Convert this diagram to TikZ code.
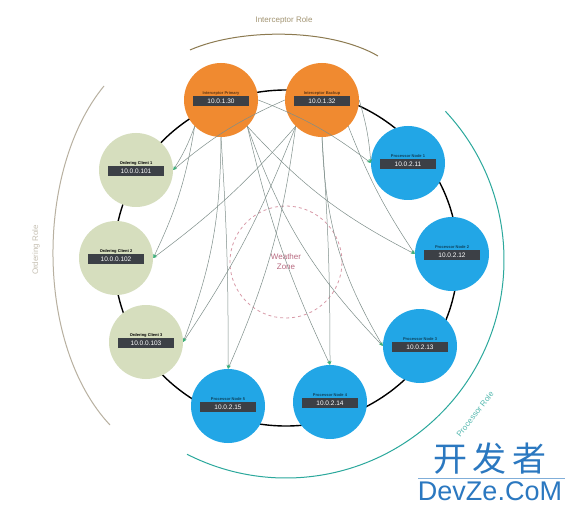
\documentclass[tikz,border=0pt]{standalone}
\usepackage{fontspec}
\setmainfont{Liberation Sans}
\newfontfamily\cjk{Noto Sans CJK SC}
\usetikzlibrary{arrows.meta,calc}
\definecolor{orng}{HTML}{F08A30}
\definecolor{blu}{HTML}{22A6E6}
\definecolor{grn}{HTML}{D6DEBE}
\definecolor{bar}{HTML}{3C4046}
\definecolor{olv}{HTML}{8C7A50}
\definecolor{tan}{HTML}{B8B0A0}
\definecolor{teal}{HTML}{2BA89C}
\definecolor{lnk}{HTML}{7E8E8A}
\definecolor{tip}{HTML}{3DB07A}
\definecolor{pnk}{HTML}{D89AA8}
\definecolor{pnktxt}{HTML}{B86A80}
\definecolor{wm}{HTML}{2B78C0}
\tikzset{
  rolenode/.style={circle,minimum size=74pt,inner sep=0pt},
  ttl/.style={font=\fontsize{4}{4}\selectfont\bfseries,inner sep=0pt},
  barbox/.style={fill=bar,text=white,font=\fontsize{6.5}{7}\selectfont,minimum width=56pt,minimum height=10pt,inner sep=1pt},
  link/.style={draw=lnk,line width=0.5pt,-{Stealth[length=4pt,width=3pt,color=tip]}},
  rolearc/.style={line width=1pt},
}
\newcommand\rolecirc[6]{%
  \node[rolenode,fill=#2] (#1) at (#3) {};
  \node[ttl,text=#6] (#1t) at ($(#1)+(0,-7)$) {#4};
  \node[barbox] (#1b) at ($(#1)+(0,1)$) {#5};
}
\begin{document}
\begin{tikzpicture}[x=1pt,y=-1pt]
\useasboundingbox (0,0) rectangle (572,510);
\fill[white] (0,0) rectangle (572,510);
% main ring
\draw[line width=1.4pt] (286,258) ellipse (172pt and 168pt);
% outer role arcs
\draw[olv,rolearc] (190,50) .. controls (240,28) and (330,28) .. (378,56);
\node[text=olv!80,font=\fontsize{8}{9}\selectfont] (tInt) at (284,20) {Interceptor Role};
\draw[tan,rolearc] (104,86) .. controls (35,170) and (35,345) .. (110,425);
\node[text=tan!80,font=\fontsize{8}{9}\selectfont,rotate=90] (tOrd) at (36,250) {Ordering Role};
\coordinate (pc) at (286,260);
\draw[teal,rolearc] (pc) ++(-43:218) arc[start angle=-43,end angle=117,radius=218];
\node[text=teal!80,font=\fontsize{8}{9}\selectfont,rotate=52] (tProc) at (475,414) {Processor Role};
% centre zone
\draw[pnk,dashed,line width=0.8pt] (286,262) circle (56pt);
\node[text=pnktxt,align=center,font=\fontsize{8}{10}\selectfont] (zone) at (286,262) {Weather\\Zone};
% nodes
\rolecirc{o1}{orng}{221,100}{Interceptor Primary}{10.0.1.30}{orng!40!black}
\rolecirc{o2}{orng}{322,100}{Interceptor Backup}{10.0.1.32}{orng!40!black}
\rolecirc{b1}{blu}{408,163}{Processor Node 1}{10.0.2.11}{blu!40!black}
\rolecirc{b2}{blu}{452,254}{Processor Node 2}{10.0.2.12}{blu!40!black}
\rolecirc{b3}{blu}{420,346}{Processor Node 3}{10.0.2.13}{blu!40!black}
\rolecirc{b4}{blu}{330,402}{Processor Node 4}{10.0.2.14}{blu!40!black}
\rolecirc{b5}{blu}{228,406}{Processor Node 5}{10.0.2.15}{blu!40!black}
\rolecirc{g1}{grn}{146,342}{Ordering Client 3}{10.0.0.103}{black}
\rolecirc{g2}{grn}{116,258}{Ordering Client 2}{10.0.0.102}{black}
\rolecirc{g3}{grn}{136,170}{Ordering Client 1}{10.0.0.101}{black}
% links from interceptor 1
\draw[link] (o1.south) to[bend left=2] (b5.north);
\draw[link] (o1.south east) to[bend right=6] (b4.north);
\draw[link] (o1.east) to[bend left=8] (b1.west);
\draw[link] (o1.south east) to[bend right=10] (b2.west);
\draw[link] (o1.south east) to[bend right=12] (b3.west);
\draw[link] (o1.south) to[bend left=10] (g1.east);
\draw[link] (o1.south west) to[bend left=8] (g2.east);
\draw[link] (o1.south west) to[bend left=6] (g3.east);
% links from interceptor 2
\draw[link] (o2.south) to[bend left=2] (b4.north);
\draw[link] (o2.south west) to[bend left=8] (b5.north);
\draw[link] (o2.east) to[bend left=6] (b1.west);
\draw[link] (o2.south east) to[bend right=6] (b2.west);
\draw[link] (o2.south) to[bend right=14] (b3.west);
\draw[link] (o2.south west) to[bend left=6] (g1.east);
\draw[link] (o2.south west) to[bend left=6] (g2.east);
\draw[link] (o2.west) to[bend right=8] (g3.east);
% watermark
\node[text=wm,font=\cjk\fontsize{34}{36}\selectfont,anchor=south] (wm1) at (490,478) {开\,发\,者};
\draw[wm!60,line width=0.6pt] (418,478) -- (565,478);
\node[text=wm,font=\fontsize{27}{28}\selectfont,anchor=north] (wm2) at (490,478) {DevZe.CoM};
\end{tikzpicture}
\end{document}
